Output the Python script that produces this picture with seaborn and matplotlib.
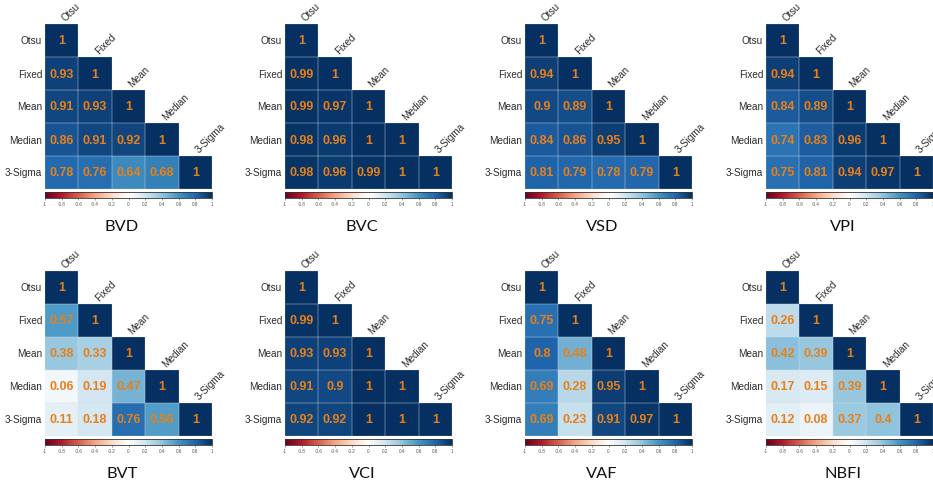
import numpy as np
import matplotlib
matplotlib.use("Agg")
import matplotlib.pyplot as plt
from matplotlib.colors import LinearSegmentedColormap
from matplotlib.patches import Rectangle
import seaborn as sns

sns.set_theme(style="white")
plt.rcParams["font.family"] = ["Liberation Sans", "DejaVu Sans"]

# ---------------------------------------------------------------
# Data: lower triangle of each correlation matrix, row by row
# ---------------------------------------------------------------
methods = ["Otsu", "Fixed", "Mean", "Median", "3-Sigma"]

bvd = [0.93, 0.91, 0.93, 0.86, 0.91, 0.92, 0.78, 0.76, 0.64, 0.68]
bvc = [0.99, 0.99, 0.97, 0.98, 0.96, 1, 0.98, 0.96, 0.99, 1]
vsd = [0.94, 0.9, 0.89, 0.84, 0.86, 0.95, 0.81, 0.79, 0.78, 0.79]
vpi = [0.94, 0.84, 0.89, 0.74, 0.83, 0.96, 0.75, 0.81, 0.94, 0.97]
bvt = [0.57, 0.38, 0.33, 0.06, 0.19, 0.47, 0.11, 0.18, 0.76, 0.56]
vci = [0.99, 0.93, 0.93, 0.91, 0.9, 1, 0.92, 0.92, 1, 1]
vaf = [0.75, 0.8, 0.48, 0.69, 0.28, 0.95, 0.69, 0.23, 0.91, 0.97]
nbfi = [0.26, 0.42, 0.39, 0.17, 0.15, 0.39, 0.12, 0.08, 0.37, 0.4]

panel_names = ["BVD", "BVC", "VSD", "VPI", "BVT", "VCI", "VAF", "NBFI"]
panel_data = [bvd, bvc, vsd, vpi, bvt, vci, vaf, nbfi]

cbar_ticks = [-1, -0.8, -0.6, -0.4, -0.2, 0, 0.2, 0.4, 0.6, 0.8, 1]

# corrplot-style RdBu ramp
corr_cmap = LinearSegmentedColormap.from_list("corrRdBu", [
    "#67001F", "#B2182B", "#D6604D", "#F4A582", "#FDDBC7", "#FFFFFF",
    "#D1E5F0", "#92C5DE", "#4393C3", "#2166AC", "#053061"])

NUM_COLOR = "#E8801A"
LABEL_COLOR = "#2b2b2b"
W, H = 933, 481


def full_matrix(lower):
    n = len(methods)
    m = np.eye(n)
    k = 0
    for i in range(1, n):
        for j in range(i):
            m[i, j] = m[j, i] = lower[k]
            k += 1
    return m


def px_axes(fig, x, y, w, h):
    # pixel box (top-left origin) -> figure fraction axes
    return fig.add_axes([x / W, 1 - (y + h) / H, w / W, h / H])


def draw_panel(fig, x0, y0, name, lower):
    mat = full_matrix(lower)
    n = len(methods)
    mask = np.triu(np.ones_like(mat, dtype=bool), k=1)
    labels = np.vectorize(lambda v: f"{v:g}")(mat)

    ax = px_axes(fig, x0, y0, 167, 165)
    cax = px_axes(fig, x0, y0 + 168, 167, 6)
    sns.heatmap(mat, mask=mask, cmap=corr_cmap, vmin=-1, vmax=1,
                annot=labels, fmt="", ax=ax, cbar_ax=cax,
                cbar_kws={"orientation": "horizontal", "ticks": cbar_ticks},
                linewidths=0, xticklabels=False, yticklabels=methods,
                annot_kws={"color": NUM_COLOR, "fontweight": "bold", "fontsize": 9})
    # faint cell borders on the lower triangle only
    for i in range(n):
        for j in range(i + 1):
            ax.add_patch(Rectangle((j, i), 1, 1, fill=False, lw=0.35,
                                   edgecolor="#dbe3eb", alpha=0.45, zorder=2))
    ax.tick_params(axis="y", length=0, pad=2, labelsize=7.2, labelcolor=LABEL_COLOR)
    ax.set_yticklabels(methods, rotation=0)
    for j, lab in enumerate(methods):
        ax.text(j + 0.62, j - 0.1, lab, rotation=45, ha="left", va="baseline",
                rotation_mode="anchor", fontsize=7.2, color=LABEL_COLOR)

    cb = ax.collections[0].colorbar
    cb.outline.set_visible(True)
    cb.outline.set_linewidth(0.6)
    cb.outline.set_edgecolor("#333333")
    cax.tick_params(axis="x", labelsize=3.3, length=1.5, width=0.4,
                    pad=1, colors="#555555")
    cax.set_xticklabels([f"{t:g}" for t in cbar_ticks])

    fig.text((x0 + 77) / W, 1 - (y0 + 206) / H, name, ha="center", va="baseline",
             fontsize=11.8, family=["Lato", "DejaVu Sans"], color="#111111")


fig = plt.figure(figsize=(W / 100, H / 100), dpi=100)
col_x = [45, 285, 525, 766]
row_y = [25, 272]
for idx, (name, lower) in enumerate(zip(panel_names, panel_data)):
    r, c = divmod(idx, 4)
    draw_panel(fig, col_x[c], row_y[r], name, lower)

fig.savefig("out.png", dpi=100)
